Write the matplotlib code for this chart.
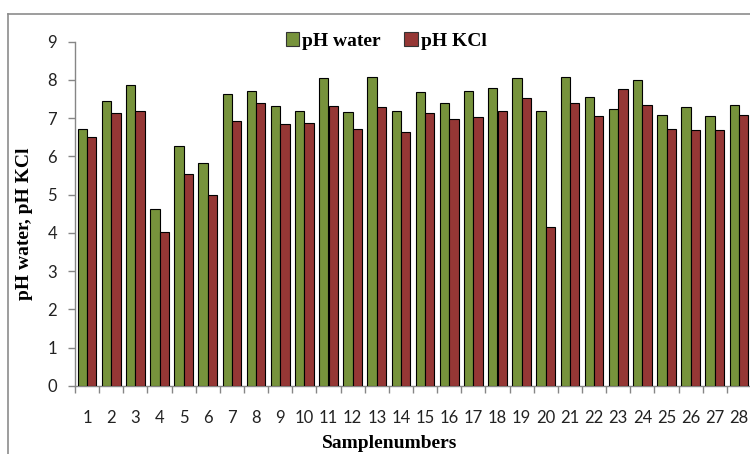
import matplotlib
matplotlib.use("Agg")
import matplotlib.pyplot as plt
import numpy as np
from matplotlib.lines import Line2D

samples = [str(i) for i in range(1, 29)]
ph_water = [6.71, 7.44, 7.86, 4.63, 6.28, 5.83, 7.64, 7.72, 7.31, 7.20,
            8.04, 7.17, 8.08, 7.20, 7.69, 7.39, 7.72, 7.78, 8.04, 7.18,
            8.07, 7.55, 7.25, 8.00, 7.08, 7.29, 7.06, 7.34]
ph_kcl = [6.50, 7.13, 7.20, 4.02, 5.55, 4.98, 6.94, 7.40, 6.84, 6.88,
          7.33, 6.73, 7.28, 6.65, 7.13, 6.97, 7.03, 7.20, 7.53, 4.16,
          7.41, 7.06, 7.76, 7.34, 6.71, 6.68, 6.68, 7.08]
yticks = list(range(0, 10))

W, H = 750, 454
fig = plt.figure(figsize=(W / 100, H / 100), dpi=100)
ax = fig.add_axes([75 / W, (H - 386) / H, (751 - 75) / W, (386 - 41.7) / H])

x = np.arange(len(samples))
bw = 0.39
green = "#77933C"
red = "#953735"
ax.bar(x - bw / 2, ph_water, bw, color=green, edgecolor="black", linewidth=0.8, label="pH water", zorder=3)
ax.bar(x + bw / 2, ph_kcl, bw, color=red, edgecolor="black", linewidth=0.8, label="pH KCl", zorder=3)

ax.set_xlim(-0.5, len(samples) - 0.5)
ax.set_ylim(0, 9)
ax.set_yticks(yticks)
ax.set_xticks(x)
ax.set_xticklabels(samples)
ax.set_xticks(np.arange(-0.5, len(samples), 1.0), minor=True)

for lab in ax.get_xticklabels() + ax.get_yticklabels():
    lab.set_fontfamily("Lato")
    lab.set_fontsize(12)
    lab.set_color("#222222")

ax.tick_params(axis="x", which="major", length=0, pad=17)
ax.tick_params(axis="x", which="minor", length=5, color="#868686", width=1)
ax.tick_params(axis="y", length=5, color="#868686", width=1, pad=8)

for s in ["top", "right"]:
    ax.spines[s].set_visible(False)
for s in ["left", "bottom"]:
    ax.spines[s].set_color("#868686")
    ax.spines[s].set_linewidth(1)

serif = ["Liberation Serif", "DejaVu Serif"]
fig.text(25 / W, (H - 224) / H, "pH water, pH KCl", rotation=90, ha="center", va="center",
         fontfamily=serif, fontweight="bold", fontsize=14)
fig.text(390 / W, (H - 443) / H, "Samplenumbers", ha="center", va="center",
         fontfamily=serif, fontweight="bold", fontsize=14)

leg = ax.legend(loc="center", bbox_to_anchor=(386 / W, (H - 41) / H), bbox_transform=fig.transFigure,
                ncol=2, frameon=False, prop={"family": serif, "weight": "bold", "size": 14},
                handlelength=0.7, handleheight=0.7, handletextpad=0.15, columnspacing=1.2,
                borderpad=0, borderaxespad=0)
for h in leg.legend_handles:
    h.set_edgecolor("#333333")

# outer chart border
fig.add_artist(Line2D([8 / W, 8 / W], [0, (H - 14) / H], transform=fig.transFigure, color="#8c8c8c", lw=1.2))
fig.add_artist(Line2D([8 / W, 1], [(H - 14) / H, (H - 14) / H], transform=fig.transFigure, color="#8c8c8c", lw=1.2))

fig.savefig("out.png", dpi=100)
